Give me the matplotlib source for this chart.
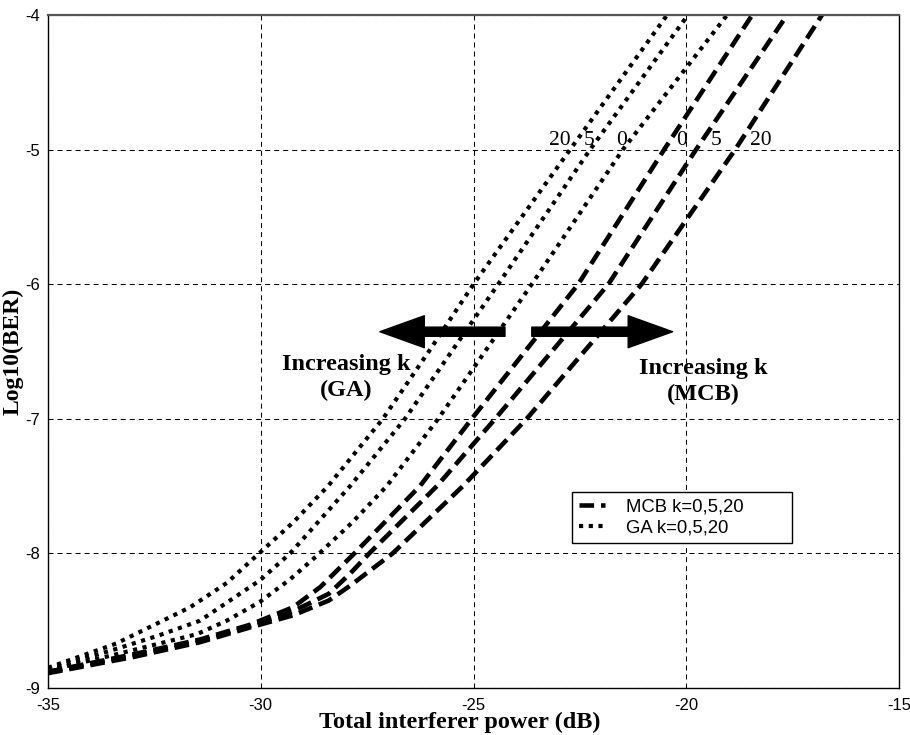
import matplotlib
matplotlib.use("Agg")
import matplotlib.pyplot as plt

plt.rcParams["lines.scale_dashes"] = False

SERIF = "Liberation Serif"
SANS = "Liberation Sans"

# GA curves (dotted), k = 20, 5, 0
ga_k20_x = [-35.0, -33.4, -31.66, -30.8, -30.04, -29.24, -28.42, -27.13, -26.05, -25.0, -22.73, -20.45]
ga_k20_y = [-8.85, -8.67, -8.40, -8.22, -8.0, -7.77, -7.5, -7.0, -6.5, -6.0, -5.0, -4.0]

ga_k5_x = [-35.0, -33.4, -32.4, -31.43, -30.02, -29.31, -27.9, -26.61, -24.42, -22.26, -19.96]
ga_k5_y = [-8.86, -8.71, -8.61, -8.5, -8.20, -8.0, -7.5, -7.0, -6.0, -5.0, -4.0]

ga_k0_x = [-35.0, -33.4, -31.5, -30.8, -30.02, -29.3, -28.69, -27.85, -27.04, -25.83, -23.63, -21.49, -19.04]
ga_k0_y = [-8.87, -8.75, -8.60, -8.50, -8.36, -8.19, -8.02, -7.77, -7.5, -7.0, -6.0, -5.0, -4.0]

# MCB curves (dashed), k = 0, 5, 20
mcb_k0_x = [-35.0, -33.0, -31.43, -30.25, -29.24, -28.6, -27.8, -26.26, -25.04, -22.54, -20.52, -18.45]
mcb_k0_y = [-8.88, -8.75, -8.64, -8.53, -8.40, -8.25, -8.0, -7.5, -7.0, -6.0, -5.0, -4.0]

mcb_k5_x = [-35.0, -33.0, -31.43, -30.25, -29.24, -28.4, -27.9, -27.45, -25.86, -24.49, -21.83, -19.77, -17.63]
mcb_k5_y = [-8.88, -8.76, -8.65, -8.54, -8.43, -8.30, -8.15, -8.0, -7.5, -7.0, -6.0, -5.0, -4.0]

mcb_k20_x = [-35.0, -33.0, -31.43, -30.25, -29.24, -28.4, -27.9, -26.9, -25.25, -23.75, -21.05, -18.85, -16.81]
mcb_k20_y = [-8.89, -8.77, -8.66, -8.55, -8.46, -8.35, -8.24, -8.0, -7.5, -7.0, -6.0, -5.0, -4.0]

# k labels written above the curves
k_labels = ["20", "5", "0", "0", "5", "20"]
k_label_x = [-22.97, -22.29, -21.51, -20.12, -19.30, -18.24]
k_label_y = -4.93

x_ticks = [-35, -30, -25, -20, -15]
y_ticks = [-9, -8, -7, -6, -5, -4]

fig = plt.figure(figsize=(9.10, 7.35), dpi=100)
ax = fig.add_axes([48 / 910, 47 / 735, 851 / 910, 673 / 735])

dash_style = dict(color="black", lw=3.3, dashes=(10.5, 5.0), dash_capstyle="butt")
dot_style = dict(color="black", lw=3.0, dashes=(3.0, 4.0), dash_capstyle="butt")

h_mcb, = ax.plot(mcb_k0_x, mcb_k0_y, **dash_style)
ax.plot(mcb_k5_x, mcb_k5_y, **dash_style)
ax.plot(mcb_k20_x, mcb_k20_y, **dash_style)

h_ga, = ax.plot(ga_k0_x, ga_k0_y, **dot_style)
ax.plot(ga_k5_x, ga_k5_y, **dot_style)
ax.plot(ga_k20_x, ga_k20_y, **dot_style)

ax.set_xlim(-35, -15)
ax.set_ylim(-9, -4)
ax.set_xticks(x_ticks)
ax.set_yticks(y_ticks)
ax.set_xticklabels([str(t) for t in x_ticks], family=SANS, fontsize=12)
ax.set_yticklabels([str(t) for t in y_ticks], family=SANS, fontsize=12)
ax.tick_params(length=0, pad=7)
ax.tick_params(axis="y", pad=6)

ax.grid(True, color="black", lw=0.75, dashes=(3.6, 2.9))
ax.set_axisbelow(True)

for side in ["left", "right", "bottom"]:
    ax.spines[side].set_color("black")
    ax.spines[side].set_linewidth(1.0)
ax.spines["top"].set_color("#555555")
ax.spines["top"].set_linewidth(1.6)

ax.set_xlabel("Total interferer power (dB)", family=SERIF, fontweight="bold",
              fontsize=17.5, va="top")
ax.xaxis.set_label_coords(0.484, -0.036)
ax.set_ylabel("Log10(BER)", family=SERIF, fontweight="bold", fontsize=17,
              labelpad=1)

for lab, xx in zip(k_labels, k_label_x):
    ax.text(xx, k_label_y, lab, family=SERIF, fontsize=15.5, ha="center",
            va="center")

# arrows showing the shift with increasing k
arrow_y = -6.353
arrow_kw = dict(arrowstyle="simple,head_width=1.15,head_length=1.6,tail_width=0.33",
                color="black", mutation_scale=20, shrinkA=0, shrinkB=0)
ax.annotate("", xy=(-27.2, arrow_y), xytext=(-24.26, arrow_y), arrowprops=arrow_kw)
ax.annotate("", xy=(-20.32, arrow_y), xytext=(-23.63, arrow_y), arrowprops=arrow_kw)

txt_kw = dict(family=SERIF, fontweight="bold", fontsize=17.5, ha="center",
              va="center")
ax.text(-28.0, -6.60, "Increasing k", **txt_kw)
ax.text(-28.0, -6.79, "(GA)", **txt_kw)
ax.text(-19.61, -6.63, "Increasing k", **txt_kw)
ax.text(-19.61, -6.82, "(MCB)", **txt_kw)

leg = ax.legend([h_mcb, h_ga], ["MCB k=0,5,20", "GA k=0,5,20"],
                loc="upper left", bbox_to_anchor=(0.616, 0.291 - 0.08, 0.2585, 0.08),
                mode="expand", borderaxespad=0, fancybox=False, framealpha=1,
                edgecolor="black", handlelength=1.45,
                prop={"family": SANS, "size": 13.3}, borderpad=0.35,
                labelspacing=0.22, handletextpad=1.1)
leg.get_frame().set_linewidth(1.0)

fig.savefig("out.png", dpi=100)
